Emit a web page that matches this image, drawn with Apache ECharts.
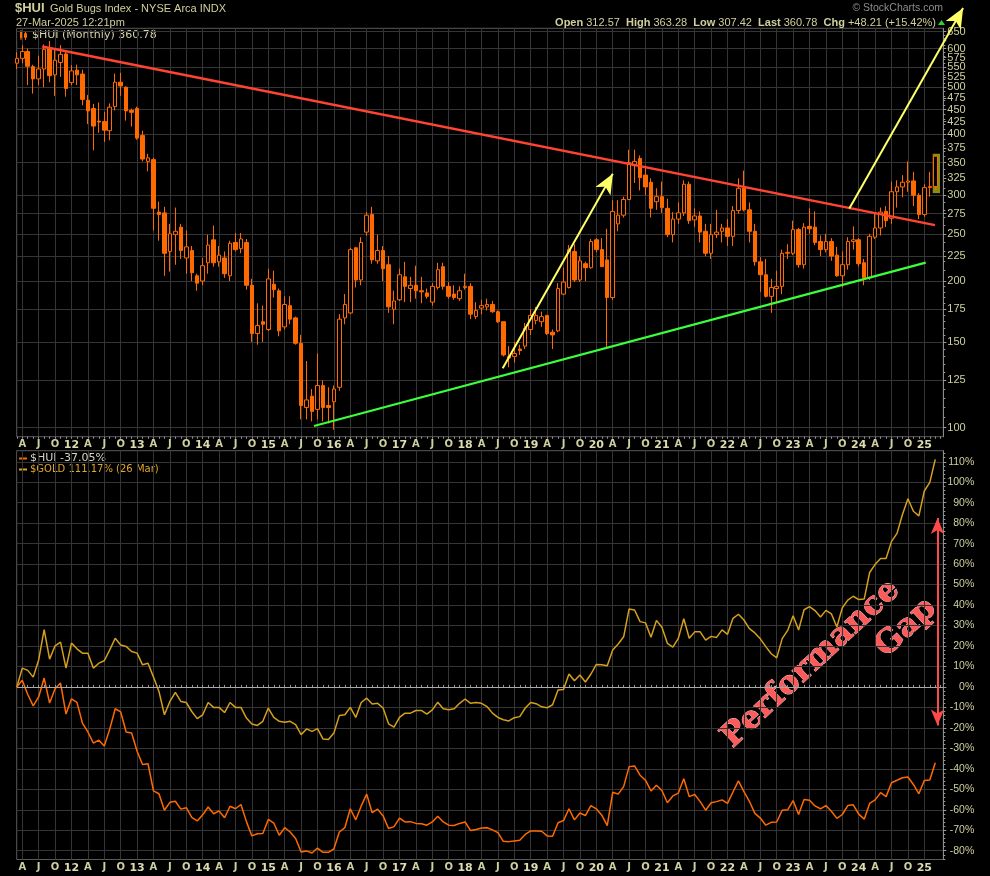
<!DOCTYPE html>
<html>
<head>
<meta charset="utf-8">
<title>$HUI Gold Bugs Index</title>
<script src="https://cdn.jsdelivr.net/npm/echarts@6.0.0/dist/echarts.min.js"></script>
<style>
html,body{margin:0;padding:0;background:#000;overflow:hidden}
#chart{width:990px;height:876px}
</style>
</head>
<body>
<div id="chart"></div>
<script>
// ---- data (monthly, first candle = Mar 2011; x = months since Jan 2011) ----
const firstMonth = 2;
const huiOpen = [560,573,592,551,520,545,600,530,562,585,
 511,542,532,470,452,426,425,407,456,512,500,448,
 452,398,352,355,277,276,230,249,258,223,231,205,
 200,218,243,219,223,205,240,233,240,196,156,165,
 159,197,191,161,178,168,149,110,116,109,122,111,
 113,121,168,172,234,201,252,274,220,231,216,175,
 183,204,193,196,191,189,181,194,214,195,188,184,
 194,195,169,176,177,179,173,165,139,140,145,147,
 159,166,165,170,157,158,188,194,230,201,217,213,
 243,232,221,185,262,273,294,345,357,330,319,291,
 298,282,249,268,276,316,267,272,253,228,249,253,
 257,247,279,310,280,253,219,206,186,193,195,228,
 228,255,216,259,258,241,232,241,226,205,216,241,
 243,218,203,246,257,278,269,305,312,319,321,300,
 274,311,312.57];
const huiClose = [573.1,592,552,520,545,598,528,568,584,497,
 540,530,472,447,416,424,408,455,512,503,447,444,
 393,356,358,282,274,228,250,253,231,235,208,198,
 215,237,218,226,207,239,232,244,196,156,162,163,
 202,192,158,179,167,149,111,114,108,122,110,110,
 120,167,179,232,201,240,273,221,231,212,177,182,
 206,195,196,191,190,186,195,211,195,186,185,191,
 195,171,174,178,179,173,165,141,140,142,144,160,
 170,170,169,156,155,193,199,232,201,220,213,241,
 232,214,185,278,273,294,350,352,326,312,282,298,
 283,249,268,276,316,266,272,252,228,249,252,257,
 247,279,310,280,253,219,206,186,194,195,228,229,
 255,216,258,256,240,232,241,225,205,216,241,243,
 217,203,247,257,277,266,305,312,319,321,300,274,
 311,312.57,360.78];
const huiLow = [545,560,505,485,505,500,512,480,525,478,
 505,505,459,420,371,403,386,389,448,480,427,415,
 390,352,336,254,242,205,209,216,222,207,200,191,
 196,207,214,214,203,200,230,228,192,150,148,150,
 158,185,154,159,163,148,104,104,103,104,103,102,
 99,119,163,171,194,196,248,217,217,200,172,163,
 182,181,181,184,180,184,178,192,192,184,183,182,
 192,167,167,171,174,172,164,140,133,136,141,145,
 155,163,161,155,145,157,187,193,199,199,200,212,
 229,214,145,183,253,270,293,318,307,300,270,280,
 276,246,240,262,272,262,258,240,225,222,245,240,
 236,236,275,278,240,215,190,185,172,181,188,222,
 226,213,212,250,237,225,229,220,204,194,211,232,
 214,196,201,244,248,258,262,283,297,305,285,268,
 271,298,307.42];
const huiHigh = [590,610,600,556,580,612,622,600,610,592,
 555,556,543,482,462,465,445,463,533,535,502,452,
 456,407,365,358,291,284,262,283,262,254,236,207,
 223,249,260,236,230,242,251,251,244,202,180,178,
 212,210,193,186,186,169,155,137,120,142,125,121,
 122,171,188,234,235,246,277,284,249,236,225,191,
 212,219,204,215,204,193,198,218,218,199,196,195,
 207,198,181,183,184,182,174,165,147,150,148,164,
 175,177,173,170,159,198,213,237,238,225,219,244,
 245,245,256,293,293,298,372,372,362,345,325,310,
 320,295,277,290,322,320,282,278,262,262,280,262,
 268,285,325,337,290,262,224,222,202,210,232,238,
 266,257,263,282,278,248,250,245,235,230,246,259,
 245,222,250,276,283,285,320,322,330,352,335,303,
 316,335,363.28];
// $GOLD performance (%), same months
const goldPct = [0,9.2,8.1,4.8,13.2,28,13.6,20.1,21.9,9.2,
 21.4,18.6,16.5,16.5,9.2,11.6,12.8,18.1,23.8,20.5,19.8,17.3,
 16.5,10.8,11.6,4.8,-2.2,-13.6,-7.1,-2.7,-7.1,-7.6,-12,-15.5,
 -13.6,-7.6,-10,-10,-12.5,-7.6,-10,-10,-15.2,-18.1,-18.8,-16.8,
 -10.3,-14.9,-16.8,-17.2,-16.8,-18.4,-23.3,-20.5,-21.7,-20.4,-25.4,-25.7,
 -22.5,-13.9,-13.6,-10,-14.9,-7.6,-5.5,-8.3,-8,-10.3,-18,-19.6,
 -14.9,-12.8,-12.8,-11.5,-11.5,-13.3,-11.2,-7.5,-10.7,-11.2,-10.7,-8,
 -5.9,-8,-7.6,-8,-9.6,-12.8,-14.9,-16,-16.6,-15,-14.5,-10.3,
 -7.6,-8.2,-9.7,-10.2,-8.7,-1.5,-1.2,6.3,3.0,5.8,2.4,6.2,
 11,10.8,10.3,18,21,24.5,38.1,37.6,31.9,31.3,24.3,32.5,
 29.2,21.3,19.4,23.7,33.3,23.8,26.9,26.9,22.9,24.7,24.2,27.9,
 25.7,33.5,35.5,32.7,28.5,26.4,23.5,19.7,16.2,14.2,23.6,27.6,
 34.8,27.8,37.7,39.2,37.3,34.2,37.4,35.7,29.3,38.7,42.4,44.3,
 42.7,42.9,55.9,59.9,62.7,62.7,71.1,75,84.2,91.9,85.8,83.6,
 95.7,99.9,111.17];
const priceTickLabels = [100,125,150,175,200,225,250,275,300,325,350,375,400,425,450,475,500,525,550,575,600,625,650];
const priceGridValues = [100,125,150,175,200,225,250,275,300,350,400,450,500,550,600,650];
const pctTickLabels = [-80,-70,-60,-50,-40,-30,-20,-10,0,10,20,30,40,50,60,70,80,90,100,110];
const monthLetter = {3:'A', 6:'J', 9:'O'};
// annotation lines (month, value)
const redTrend = {m:[6.66,169.95], v:[606,260.5]};
const greenTrend = {m:[56.36,168.25], v:[100.8,218.1]};
const arrowUp1 = {m:[90.88,111.02], v:[132.4,332.0]};
const arrowUp2 = {m:[154.28,175.09], v:[281.9,727]};
const gapArrow = {m:[170.41,170.41], p:[82.5,-18.9]};

// ---- build ----
const ln = Math.log;
const X_MIN = 1.98, X_MAX = 171.47;
const quarterTicks = []; for (let m = 3; m <= 168; m += 3) quarterTicks.push(m);
const monthTicks = []; for (let m = 2; m <= 171; m++) monthTicks.push(m);
const priceMinor = [];
for (let v = 105; v < 200; v += 5) if (v % 25) priceMinor.push(v);
for (let v = 210; v < 650; v += 10) if (v % 25) priceMinor.push(v);
const pctMinor = []; for (let p = -84; p <= 114; p += 2) if (p % 10) pctMinor.push(p);
const months = huiClose.map((_, i) => firstMonth + i);
const candleData = months.map((m, i) => [m, ln(huiOpen[i]), ln(huiClose[i]), ln(huiLow[i]), ln(huiHigh[i])]);
const base = huiClose[0];
const huiPctData = months.map((m, i) => [m, +((huiClose[i] / base - 1) * 100).toFixed(2)]);
const goldData = months.map((m, i) => [m, goldPct[i]]);

const TXT = '#cfcf9f';
const GRID = '#353535';
const ORANGE = '#ff6a00';
const Y0_MIN = ln(95.8), Y0_MAX = ln(660.5);
const Y1_MIN = -84.3, Y1_MAX = 115.4;

function xFmt(v) {
  const m = Math.round(v);
  const q = ((m % 12) + 12) % 12;
  if (q === 0) return '{y|' + String(2011 + m / 12).slice(2) + '}';
  return monthLetter[q] || '';
}
function xAxisMain(gi) {
  return {
    type: 'value', gridIndex: gi, min: X_MIN, max: X_MAX, position: 'bottom',
    axisLine: {show: false},
    axisTick: {show: false, customValues: quarterTicks},
    splitLine: {show: true, lineStyle: {color: GRID, width: 1}},
    axisLabel: {customValues: quarterTicks, formatter: xFmt, margin: 3, color: TXT,
      fontSize: 10, fontFamily: 'DejaVu Sans', fontWeight: 'bold', hideOverlap: false,
      rich: {y: {fontSize: 11, fontWeight: 'bold', color: '#dcdcb0', fontFamily: 'DejaVu Sans'}}}
  };
}
function xAxisTicks(gi, pos) {
  return {
    type: 'value', gridIndex: gi, min: X_MIN, max: X_MAX, position: pos,
    axisLine: {show: false}, splitLine: {show: false}, axisLabel: {show: false},
    axisTick: {show: true, customValues: monthTicks, length: 2, lineStyle: {color: '#9a9a9a'}}
  };
}
function yTickAxis(gi, mn, mx, vals, len) {
  return {
    type: 'value', gridIndex: gi, position: 'right', min: mn, max: mx,
    axisLine: {show: false}, splitLine: {show: false}, axisLabel: {show: false},
    axisTick: {show: true, customValues: vals, length: len, lineStyle: {color: '#9a9a9a'}}
  };
}
function arrowItem(a, color, both, useLn) {
  const y0 = useLn ? ln(a.v[0]) : a.p[0];
  const y1 = useLn ? ln(a.v[1]) : a.p[1];
  return {
    coords: [[a.m[0], y0], [a.m[1], y1]],
    lineStyle: {color: color, width: 2, opacity: 1},
    symbol: [both ? 'arrow' : 'none', 'arrow'],
    symbolSize: both ? [[10, 16], [10, 16]] : [[13, 20], [13, 20]]
  };
}

const option = {
  backgroundColor: '#000',
  animation: false,
  grid: [
    {left: 16.7, top: 28.3, width: 926.6, height: 408.4, show: true, borderColor: '#5a5a5a', borderWidth: 1, outerBoundsMode: 'none', containLabel: false},
    {left: 16.7, top: 450.7, width: 926.6, height: 408.8, show: true, borderColor: '#5a5a5a', borderWidth: 1, outerBoundsMode: 'none', containLabel: false}
  ],
  xAxis: [xAxisMain(0), xAxisMain(1), xAxisTicks(0, 'bottom'), xAxisTicks(1, 'top')],
  yAxis: [
    {
      type: 'value', gridIndex: 0, position: 'right', min: Y0_MIN, max: Y0_MAX,
      axisLine: {show: true, lineStyle: {color: '#8a8a8a'}},
      axisTick: {show: false, customValues: priceGridValues.map(ln)},
      splitLine: {show: true, lineStyle: {color: GRID}},
      axisLabel: {customValues: priceTickLabels.map(ln), formatter: v => String(Math.round(Math.exp(v))),
        color: TXT, fontSize: 11, fontFamily: 'Liberation Sans', margin: 4,
        hideOverlap: false, showMaxLabel: true, showMinLabel: true}
    },
    {
      type: 'value', gridIndex: 1, position: 'right', min: Y1_MIN, max: Y1_MAX,
      axisLine: {show: true, lineStyle: {color: '#8a8a8a'}},
      axisTick: {show: true, customValues: pctTickLabels, length: 3, lineStyle: {color: '#9a9a9a'}},
      splitLine: {show: true, lineStyle: {color: GRID}},
      axisLabel: {customValues: pctTickLabels, formatter: v => v + '%', align: 'right',
        color: TXT, fontSize: 10.5, fontFamily: 'Liberation Sans', margin: 31, hideOverlap: false}
    },
    yTickAxis(0, Y0_MIN, Y0_MAX, priceTickLabels.map(ln), 3),
    yTickAxis(0, Y0_MIN, Y0_MAX, priceMinor.map(ln), 2),
    yTickAxis(1, Y1_MIN, Y1_MAX, pctMinor, 2)
  ],
  series: [
    {
      type: 'candlestick', name: '$HUI', xAxisIndex: 0, yAxisIndex: 0,
      data: candleData, encode: {x: 0, y: [1, 2, 3, 4]},
      barWidth: 4,
      itemStyle: {color: '#000', color0: ORANGE, borderColor: ORANGE, borderColor0: ORANGE, borderColorDoji: ORANGE, borderWidth: 1},
      markArea: {silent: true, itemStyle: {color: '#8c8c10'},
        data: [[{coord: [169.53, ln(303)]}, {coord: [170.87, ln(365)]}]]}
    },
    {
      type: 'lines', coordinateSystem: 'cartesian2d', xAxisIndex: 0, yAxisIndex: 0, clip: false, z: 6,
      silent: true,
      data: [
        {coords: [[redTrend.m[0], ln(redTrend.v[0])], [redTrend.m[1], ln(redTrend.v[1])]], lineStyle: {color: '#ff4433', width: 2.5, opacity: 1}, symbol: ['none', 'none']},
        {coords: [[greenTrend.m[0], ln(greenTrend.v[0])], [greenTrend.m[1], ln(greenTrend.v[1])]], lineStyle: {color: '#3cff3c', width: 2.2, opacity: 1}, symbol: ['none', 'none']},
        arrowItem(arrowUp1, '#ffff66', false, true),
        arrowItem(arrowUp2, '#ffff66', false, true)
      ]
    },
    {
      type: 'line', name: '$GOLD', xAxisIndex: 1, yAxisIndex: 1, data: goldData,
      showSymbol: false, symbol: 'none', lineStyle: {color: '#d4a01e', width: 1.5}, z: 3,
      markLine: {silent: true, symbol: ['none', 'none'], label: {show: false},
        lineStyle: {color: '#a8a8a8', width: 1, type: 'solid'}, data: [{yAxis: 0}]}
    },
    {
      type: 'line', name: '$HUI %', xAxisIndex: 1, yAxisIndex: 1, data: huiPctData,
      showSymbol: false, symbol: 'none', lineStyle: {color: '#ff6a00', width: 1.5}, z: 4
    },
    {
      type: 'lines', coordinateSystem: 'cartesian2d', xAxisIndex: 1, yAxisIndex: 1, clip: false, z: 6,
      silent: true,
      data: [arrowItem(gapArrow, '#ff4a4a', true, false)]
    }
  ],
  graphic: [
    {type: 'text', left: 15, top: 2, style: {text: '$HUI', fill: '#d2cf9e', font: 'bold 13px "Liberation Sans"'}},
    {type: 'text', left: 50, top: 3.5, style: {text: 'Gold Bugs Index - NYSE Arca INDX', fill: '#d2cf9e', font: '11px "Liberation Sans"'}},
    {type: 'text', left: 16, top: 17, style: {text: '27-Mar-2025 12:21pm', fill: '#d2cf9e', font: '11px "Liberation Sans"'}},
    {type: 'text', right: 54, top: 17, style: {
      text: '{b|Open} 312.57  {b|High} 363.28  {b|Low} 307.42  {b|Last} 360.78  {b|Chg} +48.21 (+15.42%)',
      fill: '#d2cf9e', font: '11px "Liberation Sans"',
      rich: {b: {fontWeight: 'bold', fill: '#d2cf9e', fontSize: 11, fontFamily: 'Liberation Sans'}}}},
    {type: 'polygon', shape: {points: [[938, 25], [945, 25], [941.5, 20]]}, style: {fill: '#2fd62f'}},
    {type: 'text', right: 47, top: 3, style: {text: '\u00A9 StockCharts.com', fill: '#8e8e8e', font: '10.5px "Liberation Sans"'}},
    // top panel legend
    {type: 'rect', shape: {x: 17.5, y: 29, width: 142, height: 12}, style: {fill: '#000'}},
    {type: 'rect', shape: {x: 20, y: 32, width: 2, height: 6}, style: {fill: ORANGE}},
    {type: 'line', shape: {x1: 21, y1: 30, x2: 21, y2: 40}, style: {stroke: ORANGE, lineWidth: 1}},
    {type: 'rect', shape: {x: 24.5, y: 33.5, width: 2, height: 4}, style: {fill: '#000', stroke: ORANGE, lineWidth: 1}},
    {type: 'line', shape: {x1: 25.5, y1: 31, x2: 25.5, y2: 40}, style: {stroke: ORANGE, lineWidth: 1}},
    {type: 'text', left: 32, top: 29.5, style: {text: '$HUI (Monthly) 360.78', fill: '#d6d3aa', font: '11px "DejaVu Sans"'}},
    // bottom panel legend
    {type: 'rect', shape: {x: 17.5, y: 452, width: 94, height: 23}, style: {fill: '#000'}},
    {type: 'rect', shape: {x: 111.5, y: 464, width: 46, height: 11}, style: {fill: '#000'}},
    {type: 'line', shape: {x1: 19, y1: 458.5, x2: 27, y2: 458.5}, style: {stroke: ORANGE, lineWidth: 2}},
    {type: 'text', left: 30, top: 452.5, style: {text: '$HUI -37.05%', fill: '#d6d3c0', font: '11px "DejaVu Sans"'}},
    {type: 'line', shape: {x1: 19, y1: 469.5, x2: 27, y2: 469.5}, style: {stroke: '#d8a21c', lineWidth: 2}},
    {type: 'text', left: 30, top: 464, style: {text: '$GOLD 111.17% (26 Mar)', fill: '#e0a82a', font: '10px "DejaVu Sans"'}},
    // "Performance Gap" annotation
    {type: 'text', x: 811, y: 664, rotation: 0.75, style: {text: 'Performance', fill: '#ff5a5a', stroke: '#ffc8c8', lineWidth: 0.8,
      font: 'bold 32px "DejaVu Serif"', align: 'center', verticalAlign: 'middle'}},
    {type: 'text', x: 906, y: 628, rotation: 0.75, style: {text: 'Gap', fill: '#ff5a5a', stroke: '#ffc8c8', lineWidth: 0.8,
      font: 'bold 32px "DejaVu Serif"', align: 'center', verticalAlign: 'middle'}}
  ]
};

const chart = echarts.init(document.getElementById('chart'), null, {renderer: 'canvas', width: 990, height: 876});
chart.setOption(option);
</script>
</body>
</html>
